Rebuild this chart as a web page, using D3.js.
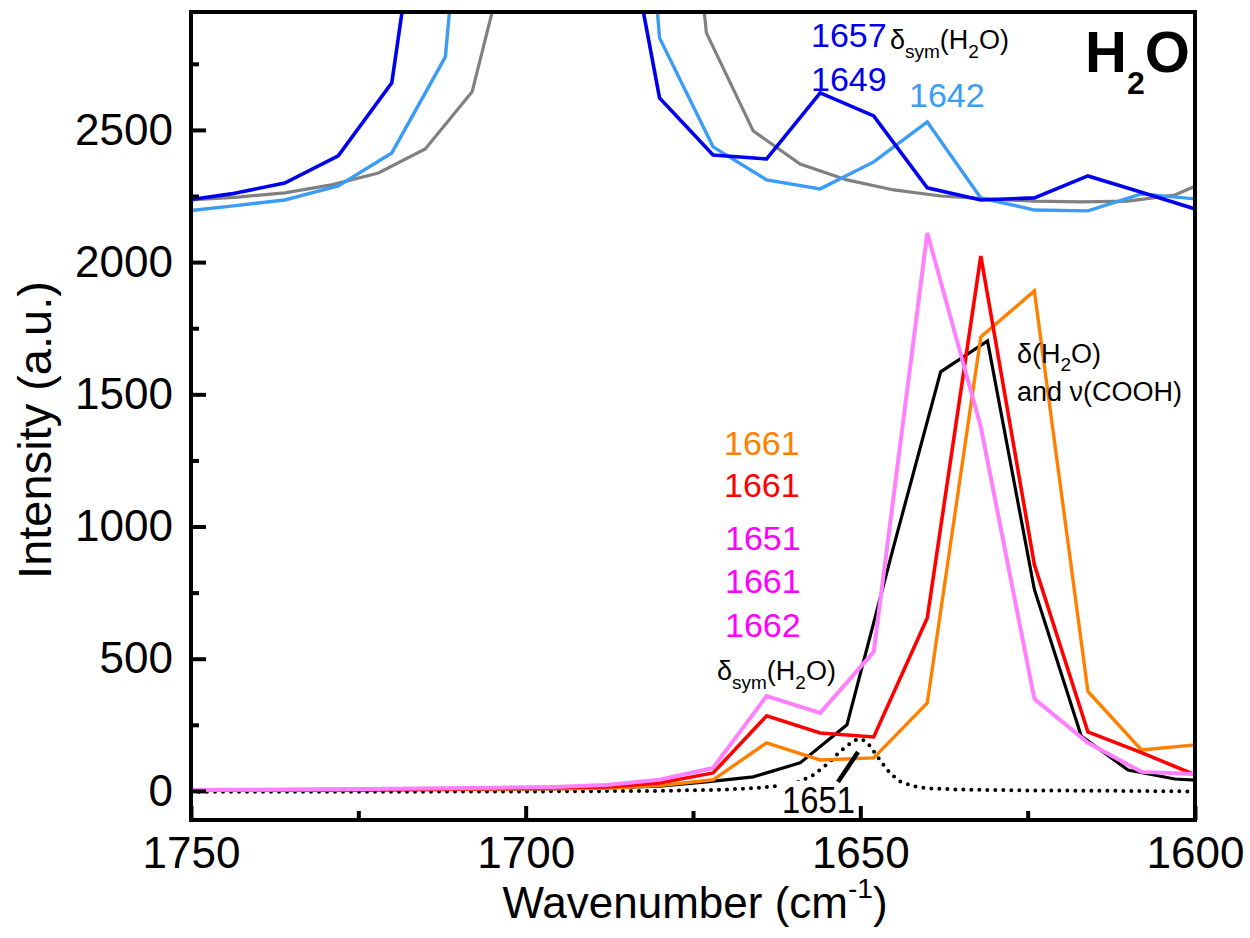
<!DOCTYPE html>
<html>
<head>
<meta charset="utf-8">
<script src="https://cdn.jsdelivr.net/npm/d3@7"></script>
<style>
  body { margin: 0; background: #fff; }
  text { font-family: "Liberation Sans", Arial, sans-serif; }
</style>
</head>
<body>
<svg id="chart" width="1250" height="938"></svg>
<script>
// ---------- DATA ----------
const wn8 = [1752,1744,1736,1728,1720,1712,1704,1696,1688,1680,1672,1664,1656,1648,1640,1632,1624,1616,1608,1600];
const wn7 = [1750,1743,1736,1729,1722,1715,1708,1701,1694,1687,1680,1673,1666,1659,1652,1645,1638,1631,1624,1617,1610,1603,1596];

// upper (offset) spectra
const blueTop  = [2230,2258,2299,2402,2678,4080,5000,5000,3700,2621,2405,2390,2640,2553,2281,2235,2243,2326,2264,2201];
const lblueTop = [2190,2212,2235,2288,2413,2776,5000,6000,5400,2848,2436,2311,2277,2379,2530,2243,2197,2194,2258,2239];
const grayTop  = [2235,2246,2262,2292,2337,2428,2644,3350,4500,4500,4600,2867,2496,2371,2311,2273,2250,2239,2231,2228,2231,2254,2330];

// lower spectra
const pinkLow   = [3,4,5,6,8,10,12,15,22,42,87,359,295,526,2110,1377,348,182,72,64];
const redLow    = [2,3,4,5,6,7,9,12,15,30,68,284,219,204,654,2023,856,223,145,61];
const orangeLow = [1,2,3,4,5,6,7,8,10,20,42,182,117,125,333,1717,1891,376,155,174];
const blackLow  = [2,2,3,3,4,5,6,7,9,12,18,34,53,106,250,927,1585,1702,762,208,79,45,35];

// fitted component (dotted)
const fitWn  = [1750,1720,1700,1680,1670,1665,1660,1657,1655,1653,1651,1650,1649,1648,1647,1646,1645,1644,1642,1640,1635,1625,1610,1600];
const fitVal = [-3,-3,-2,0,5,12,25,60,100,150,190,197,185,150,115,80,55,35,18,10,5,2,0,-2];

const xTicksMajor = [1750,1700,1650,1600];
const xTicksMinor = [1725,1675,1625];
const yTicksMajor = [0,500,1000,1500,2000,2500];
const yTicksMinor = [250,750,1250,1750,2250,2750];

// ---------- LAYOUT ----------
const L = 191, R = 1195, T = 12, B = 820;
const svg = d3.select("#chart");
const x = d3.scaleLinear().domain([1750,1600]).range([L,R]);
const y = d3.scaleLinear().domain([-110,2946]).range([B,T]);

svg.append("defs").append("clipPath").attr("id","clip")
  .append("rect").attr("x",L).attr("y",T).attr("width",R-L).attr("height",B-T);

const g = svg.append("g").attr("clip-path","url(#clip)");
const line = d3.line().x(d=>x(d[0])).y(d=>y(d[1]));
const zip = (a,b)=>a.map((v,i)=>[v,b[i]]);

function draw(wn, vals, color, w, dash) {
  const p = g.append("path").datum(zip(wn,vals)).attr("d",line)
    .attr("fill","none").attr("stroke",color).attr("stroke-width",w)
    .attr("stroke-linejoin","miter");
  if (dash) p.attr("stroke-dasharray",dash).attr("stroke-linecap","round");
}

draw(wn7, grayTop, "#808080", 3.2);
draw(wn8, lblueTop, "#3a9cf5", 3.4);
draw(wn8, blueTop, "#0000ee", 3.6);
draw(fitWn, fitVal, "#000", 4, "0 8");
draw(wn7, blackLow, "#000", 3.2);
draw(wn8, orangeLow, "#ff8000", 3.4);
draw(wn8, redLow, "#ff0000", 3.6);
draw(wn8, pinkLow, "#ff80ff", 4);

// ---------- AXES ----------
svg.append("g").attr("transform",`translate(${L},0)`)
  .call(d3.axisLeft(y).tickValues(yTicksMajor).tickSize(-15).tickPadding(18).tickFormat(d3.format("d")));
svg.append("g").attr("transform",`translate(${L},0)`)
  .call(d3.axisLeft(y).tickValues(yTicksMinor).tickSize(-8).tickFormat(""));
svg.append("g").attr("transform",`translate(0,${B})`)
  .call(d3.axisBottom(x).tickValues(xTicksMajor).tickSize(-14).tickPadding(17).tickFormat(d3.format("d")));
svg.append("g").attr("transform",`translate(0,${B})`)
  .call(d3.axisBottom(x).tickValues(xTicksMinor).tickSize(-9).tickFormat(""));
svg.selectAll(".domain").remove();
svg.selectAll(".tick line").attr("stroke","#000").attr("stroke-width",4);
svg.selectAll(".tick text").attr("font-size",44).attr("fill","#000")
  .style("font-family","'Liberation Sans', Arial, sans-serif");

// frame
svg.append("rect").attr("x",L).attr("y",T).attr("width",R-L).attr("height",B-T)
  .attr("fill","none").attr("stroke","#000").attr("stroke-width",4);

// axis titles
svg.append("text").attr("transform","translate(51,430) rotate(-90)")
  .attr("text-anchor","middle").attr("font-size",47).text("Intensity (a.u.)");
const xt = svg.append("text").attr("x",695).attr("y",918).attr("text-anchor","middle").attr("font-size",44);
xt.append("tspan").text("Wavenumber (cm");
xt.append("tspan").attr("font-size",28).attr("dy",-20).text("-1");
xt.append("tspan").attr("dy",20).text(")");

// ---------- ANNOTATIONS ----------
function label(txt, xx, yy, color, size) {
  svg.append("text").attr("x",xx).attr("y",yy).attr("fill",color).attr("font-size",size).text(txt);
}
label("1657", 811, 47, "#0000ee", 34);
label("1649", 811, 91, "#0000ee", 34);
label("1642", 909, 107, "#3a9cf5", 34);
label("1661", 724, 455, "#ff8000", 34);
label("1661", 724, 497, "#ff0000", 34);
label("1651", 725, 550, "#ff00ff", 34);
label("1661", 725, 593, "#ff00ff", 34);
label("1662", 725, 637, "#ff00ff", 34);

function deltaSym(xx, yy) {
  const t = svg.append("text").attr("x",xx).attr("y",yy).attr("font-size",27).attr("fill","#000");
  t.append("tspan").text("δ");
  t.append("tspan").attr("font-size",19).attr("dy",9).text("sym");
  t.append("tspan").attr("dy",-9).text("(H");
  t.append("tspan").attr("font-size",19).attr("dy",9).text("2");
  t.append("tspan").attr("dy",-9).text("O)");
}
deltaSym(890, 49);
deltaSym(717, 680);

const d1 = svg.append("text").attr("x",1017).attr("y",363).attr("font-size",27);
d1.append("tspan").text("δ(H");
d1.append("tspan").attr("font-size",19).attr("dy",8).text("2");
d1.append("tspan").attr("dy",-8).text("O)");
svg.append("text").attr("x",1017).attr("y",401).attr("font-size",27).text("and ν(COOH)");

const h2o = svg.append("text").attr("x",1085).attr("y",72).attr("font-size",58).attr("font-weight","bold");
h2o.append("tspan").text("H");
h2o.append("tspan").attr("font-size",32).attr("dy",22).text("2");
h2o.append("tspan").attr("dy",-22).text("O");

// 1651 label with white box and leader
svg.append("rect").attr("x",778).attr("y",781).attr("width",79).attr("height",37).attr("fill","#fff");
svg.append("text").attr("x",782).attr("y",813).attr("font-size",36).attr("fill","#000")
  .attr("textLength",73).attr("lengthAdjust","spacingAndGlyphs").text("1651");
svg.append("line").attr("x1",838).attr("y1",782).attr("x2",858).attr("y2",752)
  .attr("stroke","#000").attr("stroke-width",4.5);
</script>
</body>
</html>
